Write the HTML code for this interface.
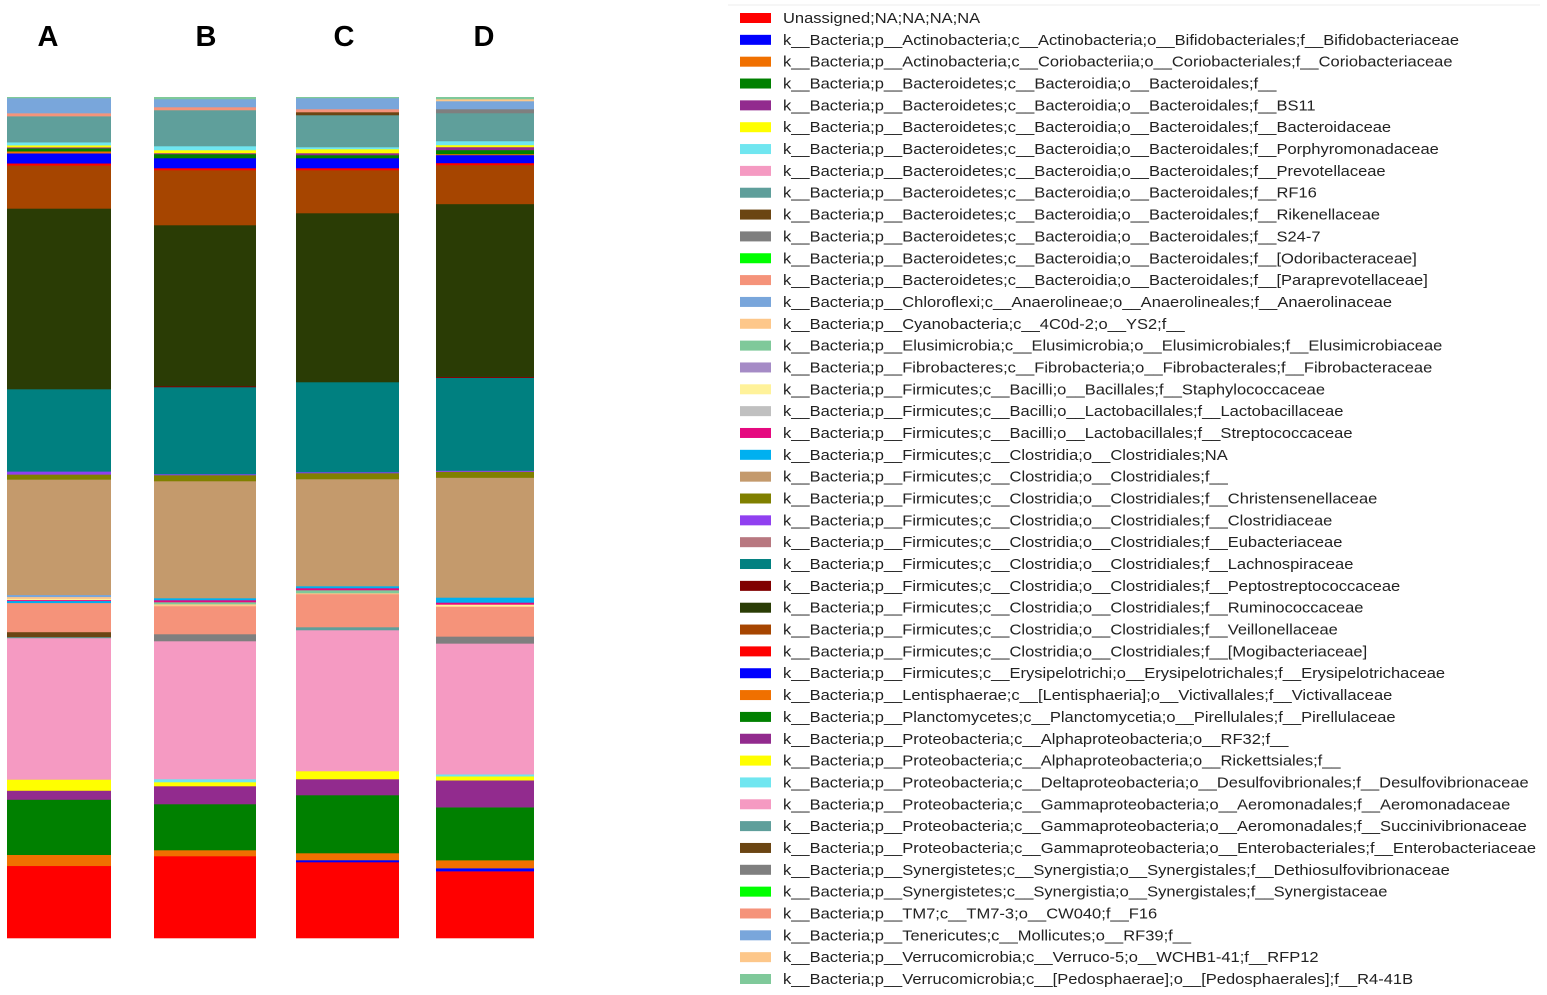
<!DOCTYPE html>
<html><head><meta charset="utf-8"><style>
html,body{margin:0;padding:0;background:#fff;width:1547px;height:995px;overflow:hidden;font-family:"Liberation Sans",sans-serif}
</style></head><body>
<svg id="chart" width="1547" height="995">
<line x1="728" y1="5" x2="1540" y2="5" stroke="#eee" stroke-width="1"/>
<g id="bars"></g>
<g id="legend"></g>
</svg>
<script>
const taxa = ["Unassigned;NA;NA;NA;NA",
"k__Bacteria;p__Actinobacteria;c__Actinobacteria;o__Bifidobacteriales;f__Bifidobacteriaceae",
"k__Bacteria;p__Actinobacteria;c__Coriobacteriia;o__Coriobacteriales;f__Coriobacteriaceae",
"k__Bacteria;p__Bacteroidetes;c__Bacteroidia;o__Bacteroidales;f__",
"k__Bacteria;p__Bacteroidetes;c__Bacteroidia;o__Bacteroidales;f__BS11",
"k__Bacteria;p__Bacteroidetes;c__Bacteroidia;o__Bacteroidales;f__Bacteroidaceae",
"k__Bacteria;p__Bacteroidetes;c__Bacteroidia;o__Bacteroidales;f__Porphyromonadaceae",
"k__Bacteria;p__Bacteroidetes;c__Bacteroidia;o__Bacteroidales;f__Prevotellaceae",
"k__Bacteria;p__Bacteroidetes;c__Bacteroidia;o__Bacteroidales;f__RF16",
"k__Bacteria;p__Bacteroidetes;c__Bacteroidia;o__Bacteroidales;f__Rikenellaceae",
"k__Bacteria;p__Bacteroidetes;c__Bacteroidia;o__Bacteroidales;f__S24-7",
"k__Bacteria;p__Bacteroidetes;c__Bacteroidia;o__Bacteroidales;f__[Odoribacteraceae]",
"k__Bacteria;p__Bacteroidetes;c__Bacteroidia;o__Bacteroidales;f__[Paraprevotellaceae]",
"k__Bacteria;p__Chloroflexi;c__Anaerolineae;o__Anaerolineales;f__Anaerolinaceae",
"k__Bacteria;p__Cyanobacteria;c__4C0d-2;o__YS2;f__",
"k__Bacteria;p__Elusimicrobia;c__Elusimicrobia;o__Elusimicrobiales;f__Elusimicrobiaceae",
"k__Bacteria;p__Fibrobacteres;c__Fibrobacteria;o__Fibrobacterales;f__Fibrobacteraceae",
"k__Bacteria;p__Firmicutes;c__Bacilli;o__Bacillales;f__Staphylococcaceae",
"k__Bacteria;p__Firmicutes;c__Bacilli;o__Lactobacillales;f__Lactobacillaceae",
"k__Bacteria;p__Firmicutes;c__Bacilli;o__Lactobacillales;f__Streptococcaceae",
"k__Bacteria;p__Firmicutes;c__Clostridia;o__Clostridiales;NA",
"k__Bacteria;p__Firmicutes;c__Clostridia;o__Clostridiales;f__",
"k__Bacteria;p__Firmicutes;c__Clostridia;o__Clostridiales;f__Christensenellaceae",
"k__Bacteria;p__Firmicutes;c__Clostridia;o__Clostridiales;f__Clostridiaceae",
"k__Bacteria;p__Firmicutes;c__Clostridia;o__Clostridiales;f__Eubacteriaceae",
"k__Bacteria;p__Firmicutes;c__Clostridia;o__Clostridiales;f__Lachnospiraceae",
"k__Bacteria;p__Firmicutes;c__Clostridia;o__Clostridiales;f__Peptostreptococcaceae",
"k__Bacteria;p__Firmicutes;c__Clostridia;o__Clostridiales;f__Ruminococcaceae",
"k__Bacteria;p__Firmicutes;c__Clostridia;o__Clostridiales;f__Veillonellaceae",
"k__Bacteria;p__Firmicutes;c__Clostridia;o__Clostridiales;f__[Mogibacteriaceae]",
"k__Bacteria;p__Firmicutes;c__Erysipelotrichi;o__Erysipelotrichales;f__Erysipelotrichaceae",
"k__Bacteria;p__Lentisphaerae;c__[Lentisphaeria];o__Victivallales;f__Victivallaceae",
"k__Bacteria;p__Planctomycetes;c__Planctomycetia;o__Pirellulales;f__Pirellulaceae",
"k__Bacteria;p__Proteobacteria;c__Alphaproteobacteria;o__RF32;f__",
"k__Bacteria;p__Proteobacteria;c__Alphaproteobacteria;o__Rickettsiales;f__",
"k__Bacteria;p__Proteobacteria;c__Deltaproteobacteria;o__Desulfovibrionales;f__Desulfovibrionaceae",
"k__Bacteria;p__Proteobacteria;c__Gammaproteobacteria;o__Aeromonadales;f__Aeromonadaceae",
"k__Bacteria;p__Proteobacteria;c__Gammaproteobacteria;o__Aeromonadales;f__Succinivibrionaceae",
"k__Bacteria;p__Proteobacteria;c__Gammaproteobacteria;o__Enterobacteriales;f__Enterobacteriaceae",
"k__Bacteria;p__Synergistetes;c__Synergistia;o__Synergistales;f__Dethiosulfovibrionaceae",
"k__Bacteria;p__Synergistetes;c__Synergistia;o__Synergistales;f__Synergistaceae",
"k__Bacteria;p__TM7;c__TM7-3;o__CW040;f__F16",
"k__Bacteria;p__Tenericutes;c__Mollicutes;o__RF39;f__",
"k__Bacteria;p__Verrucomicrobia;c__Verruco-5;o__WCHB1-41;f__RFP12",
"k__Bacteria;p__Verrucomicrobia;c__[Pedosphaerae];o__[Pedosphaerales];f__R4-41B"];
const colors = ["#ff0000","#0000ff","#f07000","#008000","#922b8e","#ffff00","#70e6f0","#f59ac2","#5f9f9b","#6b4513","#7f7f7f","#00ff00","#f5937a","#79a6db","#fdc78a","#7fc99a","#a58bc6","#fff29a","#c0c0c0","#e5097f","#00b0f0","#c49a6c","#808000","#9040f0","#b87880","#008080","#800000","#2a3c05","#a64500","#ff0000","#0000ff","#f07000","#008000","#922b8e","#ffff00","#70e6f0","#f59ac2","#5f9f9b","#6b4513","#7f7f7f","#00ff00","#f5937a","#79a6db","#fdc78a","#7fc99a"];
const samples = ["A","B","C","D"];
// segments bottom-to-top: taxon index, relative abundance
const segTaxaA = [0,31,32,33,34,36,37,38,41,20,19,17,43,42,21,22,23,25,27,28,29,30,2,3,4,5,6,8,12,13,44];
const segValsA = [72,11,55,9,11,141,1,5,29,2,1,1,2,2,115,5,3,82,180,43,2,10,2,3,1,2,3,26,3,15,1];
const segTaxaB = [0,31,32,33,34,35,36,39,41,43,44,19,20,21,22,23,25,26,27,28,29,30,3,4,5,6,8,12,13,44];
const segValsB = [82,6,46,18,4,3,138,7,28,2,2,2,2,117,6,1,87,1,161,55,2,10,4,1,3,4,36,3,8,2];
const segTaxaC = [0,1,31,32,33,34,36,37,41,43,44,19,20,21,22,23,25,27,28,29,30,3,4,5,6,8,9,12,13,44];
const segValsC = [76,2,7,58,16,8,141,3,33,1,3,2,2,107,6,1,90,169,43,2,10,3,2,4,2,32,3,3,11,1];
const segTaxaD = [0,1,31,32,33,34,35,36,39,41,17,19,20,21,22,23,25,26,27,28,29,30,2,3,4,5,6,8,10,13,14,15];
const segValsD = [67,3,8,53,27,4,2,131,7,30,2,2,5,120,6,1,93,1,173,39,2,8,1,4,3,2,4,28,4,8,2,2];
const segTaxa = [segTaxaA,segTaxaB,segTaxaC,segTaxaD];
const segVals = [segValsA,segValsB,segValsC,segValsD];

const NS="http://www.w3.org/2000/svg";
const barX=[7,154,296,436], barW=[104,102,103,98], labelX=[48,206,344,484];
const plotTop=97, plotBottom=938;
function yScale(frac){return plotBottom-frac*(plotBottom-plotTop);}
const bars=document.getElementById('bars');
samples.forEach((s,i)=>{
  const g=document.createElementNS(NS,'g');
  
  
  const total=segVals[i].reduce((a,b)=>a+b,0);
  let cum=0;
  segVals[i].forEach((v,j)=>{
    const y1=yScale(cum/total), y2=yScale((cum+v)/total);
    cum+=v;
    const r=document.createElementNS(NS,'rect');
    r.setAttribute('x',barX[i]);r.setAttribute('width',barW[i]);
    r.setAttribute('y',y2);r.setAttribute('height',Math.max(0,y1-y2)+0.3);
    r.setAttribute('fill',colors[segTaxa[i][j]]);
    
    
    g.appendChild(r);
  });
  const t=document.createElementNS(NS,'text');
  t.setAttribute('x',labelX[i]);t.setAttribute('y',46);
  t.setAttribute('text-anchor','middle');t.setAttribute('font-size','29');t.setAttribute('font-weight','bold');
  t.setAttribute('font-family','Liberation Sans, sans-serif');
  t.textContent=s;
  
  
  bars.appendChild(g);bars.appendChild(t);
});
const legend=document.getElementById('legend');
const step=(979-18)/44;
taxa.forEach((name,k)=>{
  const cy=18+k*step;
  const g=document.createElementNS(NS,'g');
  
  
  const r=document.createElementNS(NS,'rect');
  r.setAttribute('x',740);r.setAttribute('y',cy-5);r.setAttribute('width',31);r.setAttribute('height',10);
  r.setAttribute('fill',colors[k]);
  
  
  const t=document.createElementNS(NS,'text');
  t.setAttribute('x',783);t.setAttribute('y',cy+5);
  t.setAttribute('font-size','14.3');t.setAttribute('fill','#222');
  t.setAttribute('font-family','Liberation Sans, sans-serif');
  t.textContent=name;
  
  
  g.appendChild(r);g.appendChild(t);legend.appendChild(g);
  const w=t.getComputedTextLength();
  t.setAttribute('textLength',(w*1.154).toFixed(1));
  t.setAttribute('lengthAdjust','spacingAndGlyphs');
});
</script>
</body></html>
